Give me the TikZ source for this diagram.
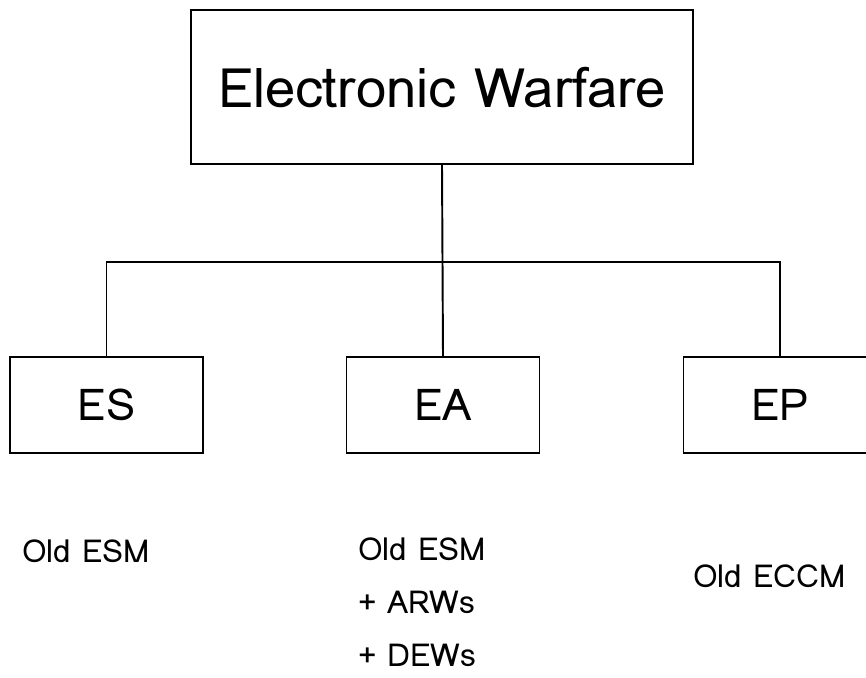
\documentclass[tikz,border=0pt]{standalone}
\usepackage{fontspec}
\setmainfont{Loma}
\tikzstyle{topbox} = [draw, line width=1.1pt, minimum width=10.04cm, minimum height=3.08cm, inner sep=0pt, font=\fontsize{31}{36}\selectfont]
\tikzstyle{subbox} = [draw, line width=1.1pt, minimum width=3.86cm, minimum height=1.92cm, inner sep=0pt, font=\fontsize{25}{30}\selectfont]
\tikzstyle{note} = [anchor=base west, inner sep=0pt, font=\fontsize{18}{22}\selectfont]
\tikzstyle{edge} = [draw, line width=1.1pt, -]

\begin{document}
\begin{tikzpicture}[x=0.02cm, y=-0.02cm]
  \useasboundingbox (0,0) rectangle (866,677);
  \clip (0,0) rectangle (866,677);

  % The root
  \node[topbox] (ew) at (442,87) {Electronic Warfare};

  % The three branches
  \foreach \pos/\name/\txt in {{(106.5,405)/es/ES}, {(443,405)/ea/EA}, {(780,405)/ep/EP}} {
    \node[subbox] (\name) at \pos {\txt};
  }

  \coordinate (bus) at (443,262);

  % Connections
  \path[edge] (es.north) |- (bus) -| (ep.north);
  \path[edge] (ew.south) -- (ea.north);

  % Notes under the boxes
  \node[note] (es-old) at (22,562) {Old ESM};
  \foreach \y/\name/\txt in {560/ea-old/Old ESM, 613/ea-arw/+ ARWs, 666/ea-dew/+ DEWs}
    \node[note] (\name) at (358,\y) {\txt};
  \node[note] (ep-old) at (693,587) {Old ECCM};

\end{tikzpicture}
\end{document}
